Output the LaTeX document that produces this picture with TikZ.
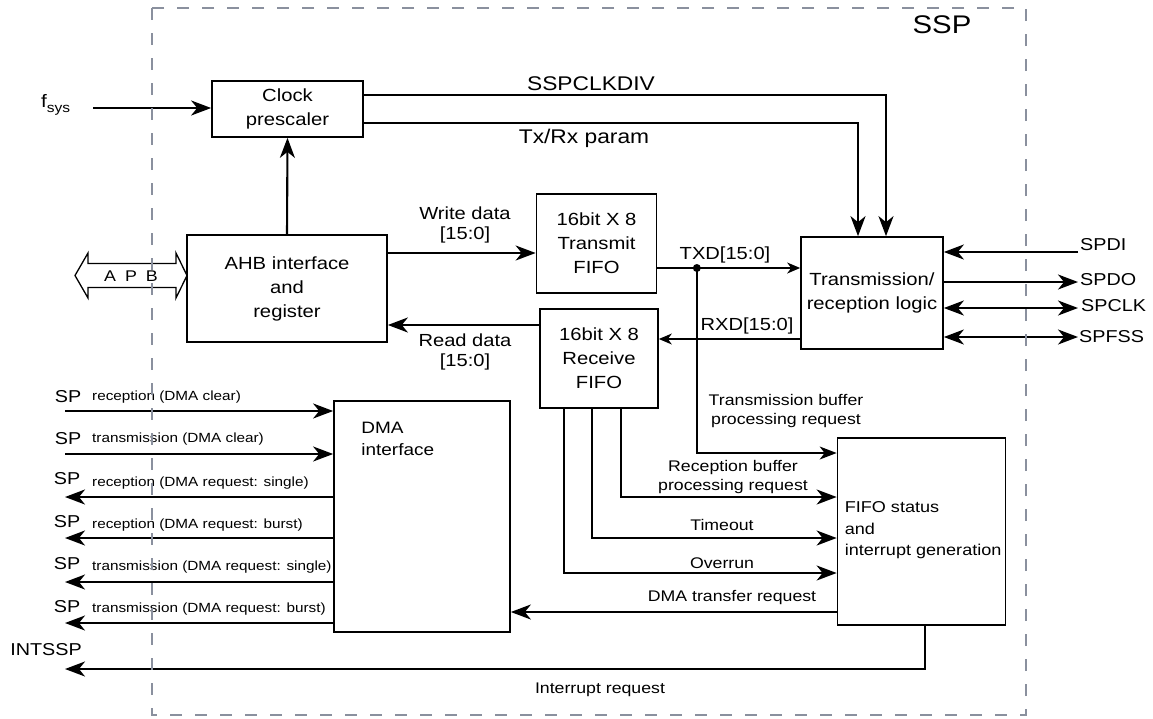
\documentclass[tikz,border=0pt]{standalone}
\usepackage{fontspec}
\setmainfont{Liberation Sans}[FakeStretch=1.15]
\usetikzlibrary{arrows.meta,calc}
\definecolor{dashgray}{HTML}{8A909E}
\newcommand{\fz}[2]{\fontsize{#1}{#2}\selectfont}
\begin{document}
\begin{tikzpicture}[x=1pt,y=-1pt,
  box/.style={draw,line width=1.7pt,inner sep=0pt,align=center,font=\fz{17.6}{24}},
  lbl/.style={inner sep=0pt,align=center,font=\fz{17.5}{20}},
  lbs/.style={inner sep=0pt,align=center,font=\fz{15.4}{19}},
  small/.style={inner sep=0pt,anchor=west,font=\fz{13.3}{16}},
  big/.style={inner sep=0pt,font=\fz{17.2}{22}},
  sig/.style={line width=2.1pt,-{Stealth[length=20pt,width=15pt,inset=6pt]}},
  sigb/.style={line width=2.1pt,{Stealth[length=20pt,width=15pt,inset=6pt]}-{Stealth[length=20pt,width=15pt,inset=6pt]}},
  mid/.style={line width=1.6pt,-{Stealth[length=17pt,width=13pt,inset=5pt]}},
  thin/.style={line width=1.4pt,-{Stealth[length=13pt,width=11pt,inset=4pt]}},
]
\useasboundingbox (0,0) rectangle (1153,718);

% blocks
\node[box,minimum width=151pt,minimum height=56pt] (clk) at (287.5,109) {Clock\\prescaler};
\node[box,minimum width=200pt,minimum height=107pt] (ahb) at (287,288.5) {AHB interface\\and\\register};
\node[box,minimum width=120pt,minimum height=99pt] (txf) at (596.5,243.5) {16bit X 8\\Transmit\\FIFO};
\node[box,minimum width=118pt,minimum height=99pt] (rxf) at (599,358.5) {16bit X 8\\Receive\\FIFO};
\node[box,minimum width=142pt,minimum height=112pt] (trx) at (872,293) {Transmission/\\reception logic};
\node[box,minimum width=168pt,minimum height=187pt] (fifo) at (921.5,531.5) {};
\node[box,minimum width=176pt,minimum height=231pt] (dma) at (422,516.5) {};
\node[anchor=west,align=left,inner sep=0pt,font=\fz{15.7}{21.5}] (fifotxt) at ($(fifo.west)+(8,-1)$) {FIFO status\\and\\interrupt generation};
\node[anchor=west,align=left,inner sep=0pt,font=\fz{16.5}{22}] (dmatxt) at ($(dma.west)+(28,-78)$) {DMA\\interface};

% fsys
\node[anchor=west,inner sep=0pt,font=\fz{18}{20}] (fsys) at (41,105) {f\raisebox{-0.45ex}{\fz{13.5}{15}sys}};
\coordinate (fs) at (93,108);
\draw[sig] (fs) -- (fs -| clk.west);

% AHB -> clock
\draw[sig] (ahb.north) -- (clk.south);

% clock outputs
\draw[sig] ($(clk.east)+(0,-14)$) -| ($(trx.north)+(14,0)$);
\draw[sig] ($(clk.east)+(0,14)$) -| ($(trx.north)+(-14,0)$);
\node[lbl,font=\fz{19.8}{22}] (sspclkdiv) at (591,84) {SSPCLKDIV};
\node[lbl,font=\fz{19.8}{22}] (txrx) at (584,138) {Tx/Rx param};

% write / read data
\draw[sig] ($(ahb.east)+(0,-35.5)$) coordinate (wd) -- (wd -| txf.west);
\node[lbl] (wdl) at (465,224.5) {Write data\\{[15:0]}};
\draw[sig] ($(rxf.west)+(0,-33.5)$) coordinate (rd) -- (rd -| ahb.east);
\node[lbl] (rdl) at (465,352) {Read data\\{[15:0]}};

% TXD / RXD
\draw[thin] ($(txf.east)+(0,24.5)$) coordinate (td) -- (td -| trx.west);
\coordinate (dot) at ($(td)+(39.5,0)$);
\fill (dot) circle (4pt);
\node[lbl] (txdl) at (725,255) {TXD[15:0]};
\draw[thin] ($(trx.west)+(0,46)$) coordinate (rx) -- (rx -| rxf.east);
\node[lbl] (rxdl) at (747,326) {RXD[15:0]};

% to FIFO status
\draw[mid] (dot) |- ($(fifo.west)+(0,-78.5)$);
\node[lbs,font=\fz{15.4}{19.5}] (tbl) at (786,411) {Transmission buffer\\processing request};
\draw[sig] ($(rxf.south)+(22,0)$) |- ($(fifo.west)+(0,-34.5)$);
\node[lbs,font=\fz{15.4}{18.5}] (rbl) at (733,477) {Reception buffer\\processing request};
\draw[sig] ($(rxf.south)+(-7,0)$) |- ($(fifo.west)+(0,6.5)$);
\node[lbs] (tol) at (722,525) {Timeout};
\draw[sig] ($(rxf.south)+(-35,0)$) |- ($(fifo.west)+(0,41.5)$);
\node[lbs] (ovl) at (722,563) {Overrun};

% DMA transfer request
\draw[sig] ($(fifo.west)+(0,80.5)$) coordinate (dt) -- (dt -| dma.east);
\node[lbs] (dtl) at (732,598) {DMA transfer request};

% interrupt
\coordinate (intend) at (65,669);
\draw[sig] ($(fifo.south)+(3.5,0)$) |- (intend);
\node[lbs] (irl) at (600,690) {Interrupt request};
\node[big] (intssp) at (46,650) {INTSSP};

% DMA side signals
\coordinate (s1) at (65,411);
\coordinate (s2) at (65,454);
\coordinate (s3) at (65,497);
\coordinate (s4) at (65,538);
\coordinate (s5) at (65,582);
\coordinate (s6) at (65,623);
\draw[sig] (s1) -- (s1 -| dma.west);
\draw[sig] (s2) -- (s2 -| dma.west);
\draw[sig] (s3 -| dma.west) -- (s3);
\draw[sig] (s4 -| dma.west) -- (s4);
\draw[sig] (s5 -| dma.west) -- (s5);
\draw[sig] (s6 -| dma.west) -- (s6);
\node[big] (sp1) at (68,397) {SP};
\node[big] (sp2) at (68,439) {SP};
\node[big] (sp3) at (67,479) {SP};
\node[big] (sp4) at (67,522) {SP};
\node[big] (sp5) at (67,564) {SP};
\node[big] (sp6) at (67,607) {SP};
\node[small] (l1) at (92,397) {reception (DMA clear)};
\node[small] (l2) at (92,439) {transmission (DMA clear)};
\node[small] (l3) at (92,483) {reception (DMA request: single)};
\node[small] (l4) at (92,525) {reception (DMA request: burst)};
\node[small] (l5) at (92,567) {transmission (DMA request: single)};
\node[small] (l6) at (92,609) {transmission (DMA request: burst)};

% right side signals
\coordinate (pdi) at (1078,252);
\coordinate (pdo) at (1078,282);
\coordinate (pclk) at (1078,308);
\coordinate (pfss) at (1078,337);
\draw[sig] (pdi) -- (pdi -| trx.east);
\draw[sig] (pdo -| trx.east) -- (pdo);
\draw[sigb] (pclk -| trx.east) -- (pclk);
\draw[sigb] (pfss -| trx.east) -- (pfss);
\node[big,anchor=west] (spdi) at (1080,245) {SPDI};
\node[big,anchor=west] (spdo) at (1080,280) {SPDO};
\node[big,anchor=west] (spclk) at (1081,306) {SPCLK};
\node[big,anchor=west] (spfss) at (1079,337) {SPFSS};

% APB double arrow
\draw[line width=1.3pt,fill=white,line join=miter] (75,275.5) -- (88,253) -- (88,263.5) -- (176,263.5) -- (176,253) -- (187,275.5) -- (176,298) -- (176,287.5) -- (88,287.5) -- (88,298) -- cycle;
\node[inner sep=0pt,font=\fz{15.5}{18}] (apb) at (131,276) {A\hspace{9pt}P\hspace{9pt}B};

% SSP boundary
\draw[dashgray,line width=2pt,dash pattern=on 12pt off 13pt] (152,8) rectangle (1026,715);
\node[inner sep=0pt,font=\fz{25.5}{30}] (ssp) at (942,25) {SSP};
\end{tikzpicture}
\end{document}
